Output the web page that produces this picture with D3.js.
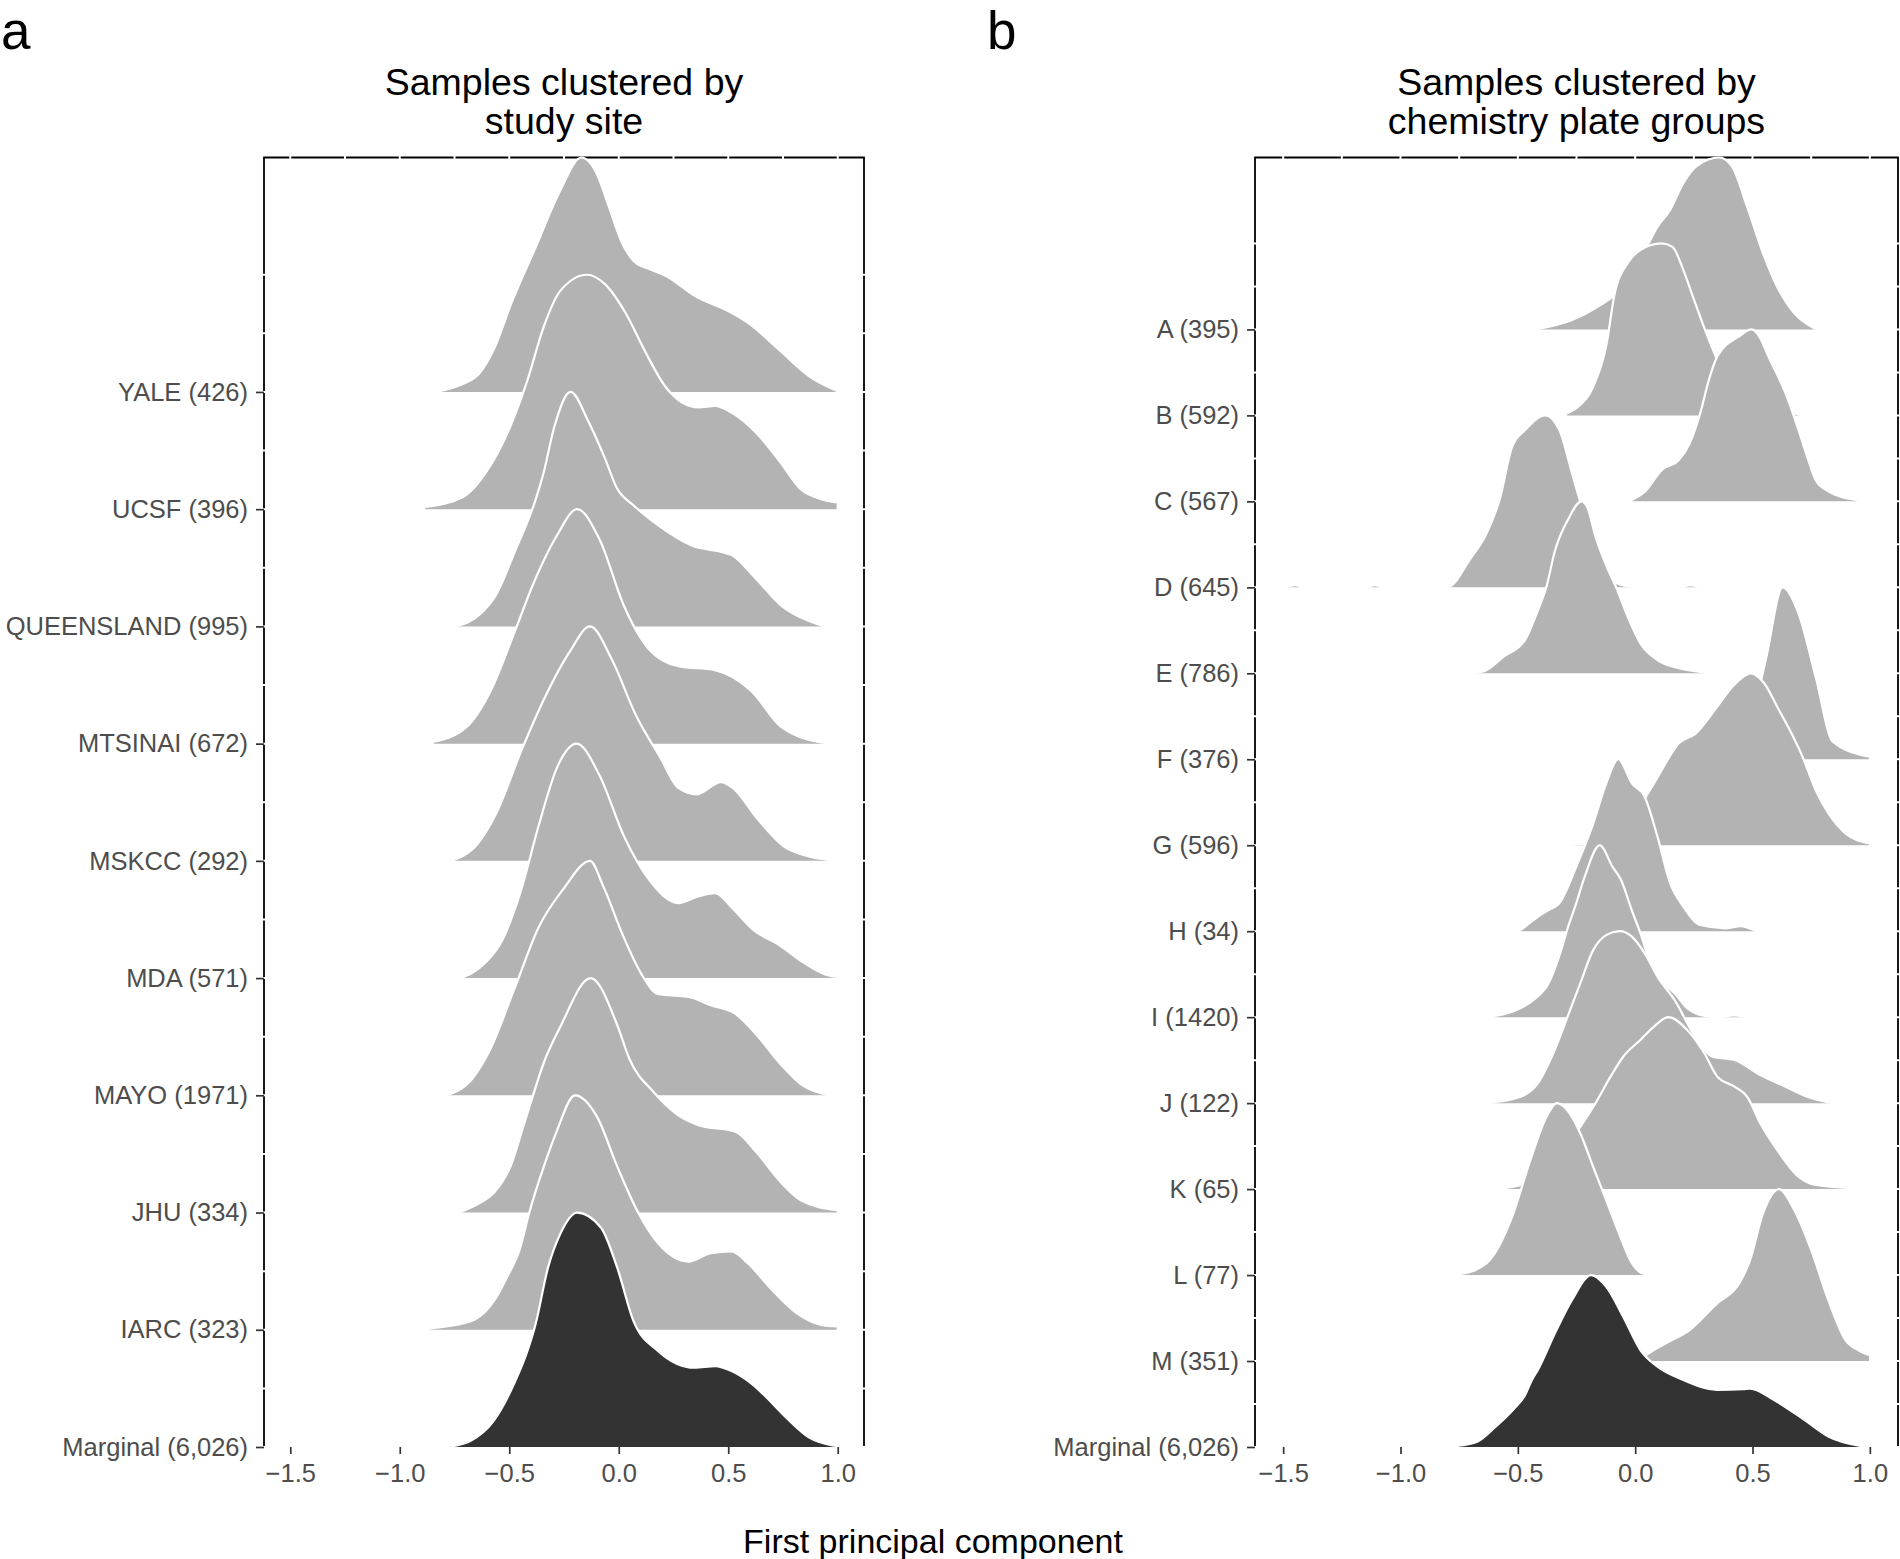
<!DOCTYPE html>
<html><head><meta charset="utf-8">
<script src="https://cdn.jsdelivr.net/npm/d3@7"></script>
<style>
body{margin:0;background:#fff;}
text{font-family:"Liberation Sans",Arial,Helvetica,sans-serif;}
</style>
</head><body>
<svg id="chart" width="1900" height="1559" style="background:#fff"></svg>
<script>
// ---------------- DATA ----------------
const siteRows = ["YALE (426)","UCSF (396)","QUEENSLAND (995)","MTSINAI (672)","MSKCC (292)","MDA (571)","MAYO (1971)","JHU (334)","IARC (323)","Marginal (6,026)"];
const plateRows = ["A (395)","B (592)","C (567)","D (645)","E (786)","F (376)","G (596)","H (34)","I (1420)","J (122)","K (65)","L (77)","M (351)","Marginal (6,026)"];
const xTicks = [-1.5,-1.0,-0.5,0.0,0.5,1.0];
const xGrid = [-1.5,-1.25,-1.0,-0.75,-0.5,-0.25,0.0,0.25,0.5,0.75,1.0];

// densities: [first PC, relative density (peak = 1)]
const densYALE = [[-0.836,0],[-0.715,0.033],[-0.64,0.075],[-0.566,0.19],[-0.492,0.375],[-0.38,0.616],[-0.268,0.857],[-0.171,1.0],[-0.10,0.93],[-0.045,0.79],[0.011,0.644],[0.067,0.56],[0.142,0.523],[0.216,0.495],[0.347,0.41],[0.515,0.338],[0.589,0.296],[0.738,0.175],[0.868,0.068],[0.99,0.007]];
const densUCSF = [[-0.883,0.01],[-0.715,0.05],[-0.604,0.16],[-0.492,0.36],[-0.417,0.55],[-0.342,0.78],[-0.268,0.93],[-0.145,1.0],[-0.063,0.96],[0.03,0.839],[0.123,0.668],[0.216,0.519],[0.29,0.455],[0.365,0.434],[0.44,0.441],[0.515,0.412],[0.626,0.327],[0.738,0.2],[0.831,0.085],[0.924,0.043],[0.995,0.029]];
const densQUEENSLAND = [[-0.745,0],[-0.64,0.047],[-0.557,0.14],[-0.474,0.32],[-0.38,0.54],[-0.342,0.66],[-0.296,0.845],[-0.22,1.0],[-0.138,0.873],[-0.063,0.717],[-0.008,0.589],[0.067,0.517],[0.179,0.432],[0.328,0.347],[0.515,0.304],[0.62,0.21],[0.743,0.088],[0.85,0.03],[0.94,0.0]];
const densMTSINAI = [[-0.845,0.008],[-0.696,0.07],[-0.585,0.225],[-0.474,0.48],[-0.391,0.68],[-0.281,0.89],[-0.19,1.0],[-0.087,0.87],[0.024,0.587],[0.135,0.406],[0.273,0.33],[0.439,0.313],[0.605,0.225],[0.743,0.07],[0.937,0.003]];
const densMSKCC = [[-0.762,0],[-0.64,0.078],[-0.557,0.207],[-0.447,0.465],[-0.336,0.7],[-0.225,0.89],[-0.131,1.0],[-0.032,0.86],[0.079,0.62],[0.19,0.44],[0.273,0.31],[0.356,0.284],[0.467,0.336],[0.522,0.31],[0.633,0.18],[0.771,0.052],[0.992,0.0]];
const densMDA = [[-0.723,0],[-0.613,0.062],[-0.53,0.165],[-0.447,0.372],[-0.364,0.656],[-0.281,0.9],[-0.192,1.0],[-0.087,0.863],[0.024,0.605],[0.135,0.424],[0.273,0.32],[0.356,0.346],[0.439,0.362],[0.522,0.295],[0.609,0.21],[0.738,0.138],[0.831,0.074],[0.94,0.017],[0.995,0.005]];
const densMAYO = [[-0.79,0],[-0.668,0.072],[-0.585,0.2],[-0.474,0.46],[-0.364,0.72],[-0.253,0.88],[-0.131,1.0],[-0.07,0.89],[0.02,0.68],[0.105,0.515],[0.179,0.432],[0.328,0.418],[0.421,0.384],[0.533,0.347],[0.626,0.262],[0.738,0.134],[0.831,0.048],[0.962,0.0]];
const densJHU = [[-0.715,0.005],[-0.64,0.038],[-0.566,0.088],[-0.492,0.202],[-0.435,0.37],[-0.398,0.48],[-0.342,0.64],[-0.268,0.79],[-0.128,1.0],[-0.007,0.8],[0.048,0.657],[0.161,0.512],[0.272,0.415],[0.365,0.373],[0.533,0.345],[0.626,0.26],[0.738,0.131],[0.831,0.052],[0.995,0.01]];
const densIARC = [[-0.864,0.005],[-0.79,0.014],[-0.659,0.043],[-0.566,0.128],[-0.509,0.227],[-0.453,0.341],[-0.407,0.505],[-0.342,0.697],[-0.286,0.84],[-0.2,1.0],[-0.1,0.91],[-0.007,0.697],[0.086,0.505],[0.179,0.37],[0.319,0.291],[0.421,0.327],[0.515,0.334],[0.589,0.284],[0.7,0.17],[0.812,0.071],[0.924,0.021],[0.995,0.014]];
const densMarginalA = [[-0.768,0.002],[-0.676,0.026],[-0.572,0.11],[-0.473,0.28],[-0.417,0.41],[-0.38,0.523],[-0.323,0.765],[-0.268,0.907],[-0.19,1.0],[-0.081,0.935],[-0.007,0.765],[0.067,0.538],[0.179,0.41],[0.347,0.338],[0.44,0.345],[0.515,0.324],[0.609,0.268],[0.66,0.225],[0.765,0.125],[0.87,0.04],[0.987,0.005]];

const densA = [[-0.424,0],[-0.269,0.055],[-0.16,0.132],[-0.051,0.248],[0.022,0.404],[0.095,0.597],[0.149,0.695],[0.205,0.85],[0.259,0.947],[0.359,1.0],[0.413,0.947],[0.477,0.714],[0.55,0.423],[0.605,0.248],[0.678,0.094],[0.765,0.006]];
const densB = [[-0.29,0.012],[-0.243,0.05],[-0.179,0.167],[-0.124,0.4],[-0.087,0.71],[-0.032,0.885],[0.022,0.962],[0.113,1.0],[0.159,0.98],[0.205,0.846],[0.241,0.71],[0.295,0.507],[0.35,0.322],[0.422,0.128],[0.55,0.03],[0.678,0.012],[0.713,0]];
const densC = [[-0.014,0.008],[0.041,0.056],[0.113,0.182],[0.186,0.24],[0.232,0.337],[0.277,0.512],[0.314,0.706],[0.35,0.842],[0.441,0.958],[0.496,1.0],[0.533,0.949],[0.568,0.842],[0.641,0.628],[0.696,0.415],[0.733,0.26],[0.769,0.124],[0.814,0.066],[0.942,0.008]];
const densD = [[-1.49,0],[-1.45,0.012],[-1.41,0],[-1.15,0],[-1.11,0.012],[-1.07,0],[-0.797,0.003],[-0.706,0.159],[-0.633,0.314],[-0.578,0.508],[-0.524,0.818],[-0.469,0.915],[-0.383,1.0],[-0.323,0.915],[-0.269,0.663],[-0.232,0.489],[-0.17,0.25],[-0.12,0.07],[-0.079,0.023],[-0.03,0.006],[0.1,0],[0.195,0],[0.235,0.012],[0.277,0]];
const densE = [[-0.72,0],[-0.651,0.009],[-0.56,0.097],[-0.469,0.194],[-0.414,0.368],[-0.378,0.504],[-0.341,0.717],[-0.287,0.892],[-0.229,1.0],[-0.205,0.969],[-0.169,0.795],[-0.124,0.63],[-0.078,0.49],[-0.032,0.33],[0.022,0.174],[0.095,0.077],[0.186,0.029],[0.286,0.006]];
const densF = [[0.35,0],[0.43,0.05],[0.48,0.15],[0.558,0.587],[0.628,1.0],[0.696,0.849],[0.769,0.48],[0.842,0.102],[0.996,0.015]];
const densG = [[-0.3,0],[-0.15,0.02],[-0.05,0.1],[0.08,0.36],[0.113,0.437],[0.186,0.593],[0.259,0.651],[0.35,0.806],[0.42,0.93],[0.492,1.0],[0.55,0.942],[0.605,0.806],[0.659,0.67],[0.713,0.515],[0.769,0.321],[0.823,0.186],[0.896,0.069],[0.996,0.011]];
const densH = [[-0.487,0.007],[-0.414,0.084],[-0.369,0.123],[-0.323,0.162],[-0.251,0.375],[-0.178,0.628],[-0.124,0.857],[-0.072,1.0],[-0.014,0.86],[0.04,0.783],[0.095,0.55],[0.149,0.279],[0.205,0.143],[0.277,0.036],[0.387,0.017],[0.45,0.03],[0.505,0.007]];
const densI = [[-0.597,0.007],[-0.524,0.032],[-0.433,0.1],[-0.369,0.197],[-0.315,0.391],[-0.29,0.507],[-0.251,0.663],[-0.215,0.817],[-0.151,1.0],[-0.097,0.876],[-0.06,0.798],[-0.014,0.62],[0.022,0.49],[0.06,0.33],[0.095,0.236],[0.168,0.139],[0.222,0.052],[0.277,0.013],[0.35,0.0],[0.42,0.01],[0.47,0.0]];
const densJ = [[-0.615,0.003],[-0.488,0.037],[-0.415,0.115],[-0.343,0.309],[-0.288,0.503],[-0.234,0.697],[-0.179,0.89],[-0.12,0.98],[-0.065,1.0],[-0.014,0.968],[0.049,0.852],[0.095,0.736],[0.168,0.6],[0.25,0.4],[0.33,0.27],[0.423,0.251],[0.533,0.163],[0.641,0.095],[0.733,0.037],[0.833,0.003]];
const densK = [[-0.6,0],[-0.45,0.04],[-0.35,0.15],[-0.25,0.33],[-0.169,0.5],[-0.105,0.654],[-0.051,0.77],[0.022,0.867],[0.08,0.945],[0.141,1.0],[0.222,0.926],[0.295,0.79],[0.35,0.654],[0.423,0.596],[0.477,0.538],[0.533,0.383],[0.605,0.228],[0.696,0.072],[0.769,0.024],[0.942,0.005]];
const densL = [[-0.742,0.006],[-0.633,0.069],[-0.524,0.34],[-0.451,0.65],[-0.378,0.92],[-0.333,1.0],[-0.29,0.96],[-0.234,0.825],[-0.179,0.63],[-0.124,0.437],[-0.069,0.243],[-0.014,0.069],[0.031,0.01],[0.08,0],[0.11,0.006],[0.15,0],[0.19,0.006],[0.22,0]];
const densM = [[0.03,0.02],[0.068,0.054],[0.131,0.103],[0.232,0.18],[0.35,0.336],[0.444,0.452],[0.49,0.588],[0.545,0.86],[0.613,1.0],[0.678,0.878],[0.75,0.646],[0.823,0.355],[0.896,0.122],[0.95,0.064],[0.996,0.035]];
const densMarginalB = [[-0.75,0.008],[-0.673,0.031],[-0.595,0.118],[-0.518,0.22],[-0.47,0.3],[-0.44,0.39],[-0.414,0.45],[-0.342,0.661],[-0.269,0.855],[-0.187,1.0],[-0.124,0.933],[-0.051,0.758],[0.022,0.564],[0.095,0.467],[0.205,0.39],[0.35,0.332],[0.459,0.336],[0.49,0.34],[0.592,0.273],[0.722,0.157],[0.825,0.06],[0.954,0.008]];

const siteDens = [densYALE,densUCSF,densQUEENSLAND,densMTSINAI,densMSKCC,densMDA,densMAYO,densJHU,densIARC,densMarginalA];
const plateDens = [densA,densB,densC,densD,densE,densF,densG,densH,densI,densJ,densK,densL,densM,densMarginalB];

// ---------------- LAYOUT ----------------
const svg = d3.select("#chart");
const panels = [
  {rows: siteRows, dens: siteDens, left: 264, right: 864, top: 157.5, bottom: 1447,
   title: ["Samples clustered by","study site"], tag: "a", tagX: 0},
  {rows: plateRows, dens: plateDens, left: 1255, right: 1898, top: 157.5, bottom: 1447,
   title: ["Samples clustered by","chemistry plate groups"], tag: "b", tagX: 986}
];
const xDomain = [-1.62, 1.12];
const fillGray = "#b3b3b3", fillDark = "#333333";

panels.forEach(p => {
  const g = svg.append("g");
  const n = p.rows.length;
  const x = d3.scaleLinear().domain(xDomain).range([p.left, p.right]);
  const y = d3.scaleLinear().domain([0, n + 1]).range([p.bottom, p.top]);

  // panel frame (background outline), no bottom edge
  g.append("path")
    .attr("d", `M${p.left},${p.bottom}V${p.top}H${p.right}V${p.bottom}`)
    .attr("fill","none").attr("stroke","#000").attr("stroke-width",1.8);

  // white grid lines that cut the frame
  g.selectAll(".gx").data(xGrid).join("line")
    .attr("x1", d => x(d)).attr("x2", d => x(d))
    .attr("y1", p.top - 3).attr("y2", p.bottom)
    .attr("stroke","#fff").attr("stroke-width",2);
  const gy = d3.range(0, 2 * n + 1).map(k => k / 2);
  g.selectAll(".gy").data(gy).join("line")
    .attr("x1", p.left - 3).attr("x2", p.right + 3)
    .attr("y1", d => y(d)).attr("y2", d => y(d))
    .attr("stroke","#fff").attr("stroke-width",2);

  // ridges, top row first
  p.rows.forEach((name, i) => {
    const idx = n - 1 - i;
    const data = p.dens[i];
    const isMarg = name.startsWith("Marginal");
    const area = d3.area()
      .x(d => x(d[0])).y0(y(idx)).y1(d => y(idx + 2 * d[1]))
      .curve(d3.curveMonotoneX);
    const line = d3.line()
      .x(d => x(d[0])).y(d => y(idx + 2 * d[1]))
      .curve(d3.curveMonotoneX);
    g.append("path").datum(data).attr("d", area)
      .attr("fill", isMarg ? fillDark : fillGray).attr("stroke","none");
    g.append("path").datum(data).attr("d", line)
      .attr("fill","none").attr("stroke","#fff").attr("stroke-width",2.2)
      .attr("stroke-linejoin","round");
  });

  // y axis
  const yAxis = d3.axisLeft(y)
    .tickValues(d3.range(0, n))
    .tickFormat(v => p.rows[n - 1 - v])
    .tickSize(8).tickPadding(8);
  const ya = g.append("g").attr("transform", `translate(${p.left},0)`).call(yAxis);
  ya.select(".domain").remove();

  // x axis
  const xAxis = d3.axisBottom(x).tickValues(xTicks)
    .tickFormat(d3.format(".1f")).tickSize(7).tickPadding(10);
  const xa = g.append("g").attr("transform", `translate(0,${p.bottom})`).call(xAxis);
  xa.select(".domain").remove();

  [ya, xa].forEach(a => {
    a.selectAll(".tick line").attr("stroke","#333").attr("stroke-width",1.7);
    a.selectAll(".tick text").attr("fill","#4d4d4d")
      .style("font-size","25.5px").style("font-family",'"Liberation Sans",Arial,sans-serif');
  });

  // title
  const cx = (p.left + p.right) / 2;
  g.append("text").attr("x", cx).attr("y", 95).attr("text-anchor","middle")
    .style("font-size","37.5px").attr("fill","#000").text(p.title[0]);
  g.append("text").attr("x", cx).attr("y", 134).attr("text-anchor","middle")
    .style("font-size","37.5px").attr("fill","#000").text(p.title[1]);

  // panel tag
  g.append("text").attr("x", p.tagX + 1).attr("y", 49)
    .style("font-size","53px").attr("fill","#000").text(p.tag);
});

svg.append("text").attr("x", 933).attr("y", 1553).attr("text-anchor","middle")
  .style("font-size","34px").attr("fill","#000").text("First principal component");
</script>
</body></html>
